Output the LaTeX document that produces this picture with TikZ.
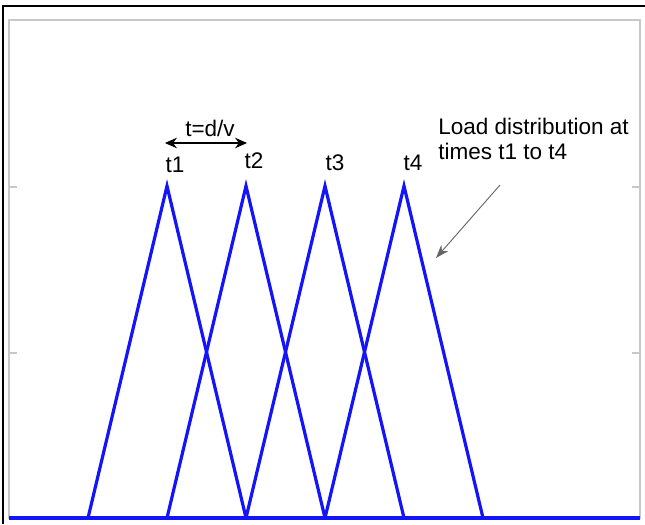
\documentclass[tikz,border=0pt]{standalone}
\usepackage{fontspec}
\setmainfont{Liberation Sans}
\usetikzlibrary{arrows.meta,positioning}
\definecolor{axisgray}{RGB}{200,200,200}
\definecolor{loadblue}{RGB}{20,20,250}

\begin{document}
\begin{tikzpicture}[x=0.75pt, y=-0.75pt,
  every node/.style={font=\fontsize{16.9}{18.5}\selectfont, inner sep=0pt},
  load/.style={loadblue, line width=2.4pt},
  axisline/.style={axisgray, line width=1.4pt},
  pointer/.style={-{Stealth[length=10pt,width=7pt]}, black!60, line width=0.7pt},
  span/.style={{Stealth[length=9pt,width=8pt]}-{Stealth[length=9pt,width=8pt]}, line width=0.8pt}
]
\useasboundingbox (0,0) rectangle (645,524);
\draw[line width=1.2pt] (3,524) -- (3,6) -- (645,6);
\draw[axisline] (9,519) -- (9,20) -- (640,20) -- (640,519);
\foreach \y in {187,353} {
  \draw[axisline] (9,\y) -- (17,\y);
  \draw[axisline] (640,\y) -- (632,\y);
}

% load triangles, one per time step
\foreach \p in {167,246,325,404}
  \draw[load] (\p-79,518) -- (\p,186) -- (\p+79,518);
\draw[load] (9,518) -- (640,518);

\foreach \x/\y/\i in {175/172/1, 254/168/2, 335/171/3, 413/170/4}
  \node[anchor=base] (t\i) at (\x,\y) {t\i};

\coordinate (spanL) at (165,143);
\coordinate (spanR) at (247,143);
\draw[span] (spanL) -- (spanR);
\node[anchor=base] (tdv) at (210,137) {t=d/v};

\node[anchor=base west, align=left] (note) at (438,159) {Load distribution at\\times t1 to t4};
\coordinate (tail) at (500,185);
\coordinate (tip) at (436,258);
\draw[pointer] (tail) -- (tip);
\end{tikzpicture}
\end{document}
